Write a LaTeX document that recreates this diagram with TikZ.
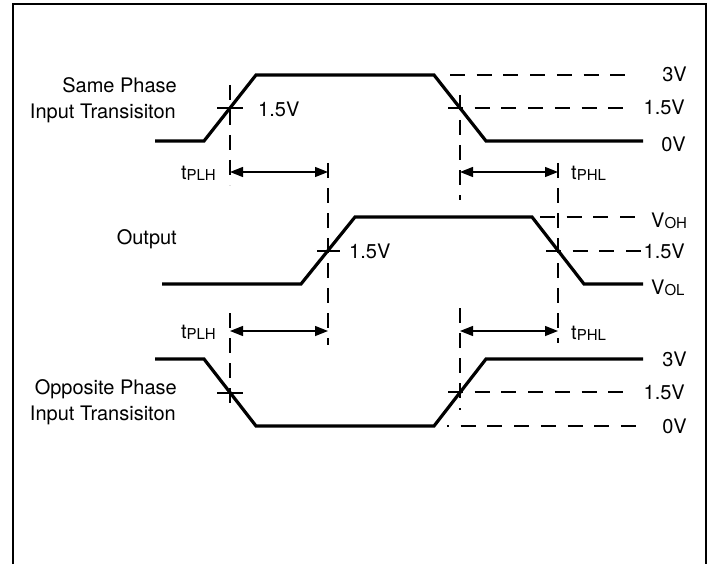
\documentclass[tikz,border=0pt]{standalone}
\usepackage{fontspec}
\setmainfont{TeX Gyre Heros}
\usetikzlibrary{arrows.meta}
\newcommand\lowsub[1]{\raisebox{-1.5pt}{\fontsize{15}{15}\selectfont #1}}
\tikzset{
  sig/.style={line width=3.2pt, line join=miter},
  lvl/.style={line width=1.2pt, dash pattern=on 15pt off 11.7pt},
  vdash/.style={line width=1.2pt, dash pattern=on 15pt off 10pt},
  tick/.style={line width=1.2pt},
  dim/.style={line width=1.4pt, {Triangle[length=13pt,width=10pt]}-{Triangle[length=13pt,width=10pt]}},
  lbl/.style={inner sep=0pt, text height=14.4pt, text depth=0pt, font=\fontsize{20}{24}\selectfont},
  frame/.style={line width=1.5pt}
}
\begin{document}
\begin{tikzpicture}[x=1pt,y=-1pt]
\useasboundingbox (0,0) rectangle (711,564);
% frame
\coordinate (f0) at (13,564);
\coordinate (f1) at (13,4);
\coordinate (f2) at (706,4);
\coordinate (f3) at (706,564);
\draw[frame] (f0) -- (f1) -- (f2) -- (f3);

% ---- Signal A (same phase)
\coordinate (a0) at (155,141);
\coordinate (a1) at (204,141);
\coordinate (a2) at (256,75);
\coordinate (a3) at (434,75);
\coordinate (a4) at (486,141);
\coordinate (a5) at (643,141);
\draw[sig] (a0) -- (a1) -- (a2) -- (a3) -- (a4) -- (a5);
\coordinate (a3s) at (450,75);  \coordinate (a3e) at (625,75);
\coordinate (a15s) at (448,108); \coordinate (a15e) at (625,108);
\draw[lvl] (a3s) -- (a3e);
\draw[lvl] (a15s) -- (a15e);
\coordinate (atl) at (217,108); \coordinate (atr) at (243,108);
\draw[tick] (atl) -- (atr);

% ---- Output
\coordinate (o0) at (162,284);
\coordinate (o1) at (301,284);
\coordinate (o2) at (355,217);
\coordinate (o3) at (532,217);
\coordinate (o4) at (584,284);
\coordinate (o5) at (643,284);
\draw[sig] (o0) -- (o1) -- (o2) -- (o3) -- (o4) -- (o5);
\coordinate (ohs) at (540,217); \coordinate (ohe) at (637,217);
\coordinate (o15s) at (546,251); \coordinate (o15e) at (643,251);
\draw[lvl] (ohs) -- (ohe);
\draw[lvl] (o15s) -- (o15e);
\coordinate (otl) at (317,251); \coordinate (otr) at (340,251);
\draw[tick] (otl) -- (otr);

% ---- Signal C (opposite phase)
\coordinate (c0) at (155,359);
\coordinate (c1) at (204,359);
\coordinate (c2) at (256,426);
\coordinate (c3) at (434,426);
\coordinate (c4) at (486,359);
\coordinate (c5) at (643,359);
\draw[sig] (c0) -- (c1) -- (c2) -- (c3) -- (c4) -- (c5);
\coordinate (c15s) at (448,392); \coordinate (c15e) at (625,392);
\coordinate (c0s) at (447,426); \coordinate (c0e) at (643,426);
\draw[lvl] (c15s) -- (c15e);
\draw[lvl, dash phase=13pt] (c0s) -- (c0e);
\coordinate (ctl) at (217,393); \coordinate (ctr) at (243,393);
\draw[tick] (ctl) -- (ctr);

% ---- vertical dashed reference lines
\coordinate (v1t) at (230,85);  \coordinate (v1b) at (230,185);
\coordinate (v2t) at (328,163); \coordinate (v2b) at (328,345);
\coordinate (v3t) at (460,95);  \coordinate (v3b) at (460,200);
\coordinate (v4t) at (558,163); \coordinate (v4b) at (558,343);
\coordinate (v5t) at (230,313); \coordinate (v5b) at (230,410);
\coordinate (v6t) at (460,308); \coordinate (v6b) at (460,410);
\draw[vdash] (v1t) -- (v1b);
\draw[vdash] (v2t) -- (v2b);
\draw[vdash] (v3t) -- (v3b);
\draw[vdash] (v4t) -- (v4b);
\draw[vdash] (v5t) -- (v5b);
\draw[vdash] (v6t) -- (v6b);

% ---- dimension arrows
\coordinate (d1l) at (230,172); \coordinate (d1r) at (328,172);
\coordinate (d2l) at (460,172); \coordinate (d2r) at (558,172);
\coordinate (d3l) at (230,331); \coordinate (d3r) at (328,331);
\coordinate (d4l) at (460,331); \coordinate (d4r) at (558,331);
\draw[dim] (d1l) -- (d1r);
\draw[dim] (d2l) -- (d2r);
\draw[dim] (d3l) -- (d3r);
\draw[dim] (d4l) -- (d4r);

% ---- labels
\node[lbl, anchor=east] (sp1) at (177,85) {Same Phase};
\node[lbl, anchor=east] (sp2) at (176,111.5) {Input Transisiton};
\node[lbl, anchor=west] (av) at (258,109) {1.5V};
\node[lbl, anchor=east] (tplh1) at (216,172) {t\lowsub{PLH}};
\node[lbl, anchor=west] (tphl1) at (571,172) {t\lowsub{PHL}};
\node[lbl, anchor=east] (a3v) at (687,74) {3V};
\node[lbl, anchor=east] (a15v) at (685,107.5) {1.5V};
\node[lbl, anchor=east] (a0v) at (686,144) {0V};

\node[lbl, anchor=east] (out) at (177,237) {Output};
\node[lbl, anchor=west] (ov) at (349,251) {1.5V};
\node[lbl, anchor=west] (voh) at (651,220) {V\lowsub{OH}};
\node[lbl, anchor=east] (o15v) at (685,251) {1.5V};
\node[lbl, anchor=west] (vol) at (651,287) {V\lowsub{OL}};

\node[lbl, anchor=east] (tplh2) at (216,331) {t\lowsub{PLH}};
\node[lbl, anchor=west] (tphl2) at (571,332) {t\lowsub{PHL}};

\node[lbl, anchor=east] (op1) at (177,387) {Opposite Phase};
\node[lbl, anchor=east] (op2) at (176,413) {Input Transisiton};
\node[lbl, anchor=east] (c3v) at (687,359) {3V};
\node[lbl, anchor=east] (c15v) at (685,392) {1.5V};
\node[lbl, anchor=east] (c0v) at (687,426) {0V};
\end{tikzpicture}
\end{document}
